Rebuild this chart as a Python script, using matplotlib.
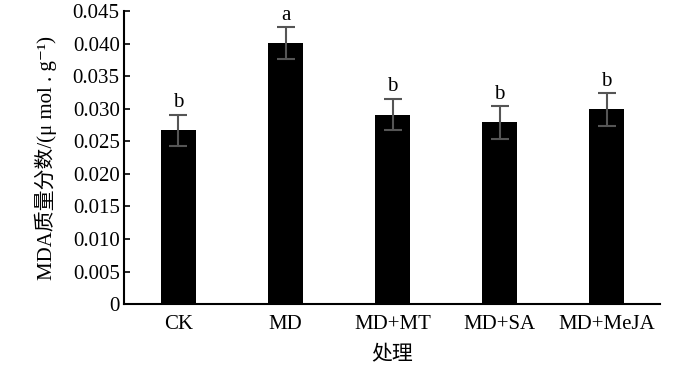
import numpy as np
import matplotlib.pyplot as plt

groups = ['CK', 'MD', 'MD+MT', 'MD+SA', 'MD+MeJA']
mda = [0.0267, 0.0401, 0.0291, 0.0279, 0.0299]
err = [0.0024, 0.0024, 0.0024, 0.0025, 0.0025]
letters = ['b', 'a', 'b', 'b', 'b']

fonts = ['Liberation Serif', 'Noto Sans CJK SC', 'DejaVu Serif']
plt.rcParams['font.family'] = fonts

fig = plt.figure(figsize=(7, 3.69), dpi=100)
ax = fig.add_axes([0.177, 0.176, 0.766, 0.794])

x = np.arange(len(groups))
ax.bar(x, mda, width=0.33, color='black')
ax.errorbar(x, mda, yerr=err, fmt='none', ecolor='#555555', elinewidth=1.5,
            capsize=6.5, capthick=1.5)
for xi, m, e, lab in zip(x, mda, err, letters):
    ax.text(xi, m + e + 0.0004, lab, ha='center', va='bottom', fontsize=15)

ax.set_xlim(-0.51, 4.5)
ax.set_ylim(0, 0.045)
ax.set_yticks(np.arange(0, 0.0451, 0.005))
ax.set_yticklabels(['0'] + ['%.3f' % v for v in np.arange(0.005, 0.0451, 0.005)])
ax.set_xticks(x)
ax.set_xticklabels(groups)
ax.tick_params(axis='y', direction='in', length=4, width=1.2, labelsize=15, pad=3)
ax.tick_params(axis='x', length=0, labelsize=15, pad=8)
ax.spines['top'].set_visible(False)
ax.spines['right'].set_visible(False)
ax.spines['left'].set_linewidth(1.5)
ax.spines['bottom'].set_linewidth(1.5)

ax.set_ylabel('MDA质量分数/(μ mol . g⁻¹)', fontsize=15, labelpad=11)
ax.set_xlabel('处理', fontsize=15, labelpad=9)

fig.savefig('out.png', dpi=100)
